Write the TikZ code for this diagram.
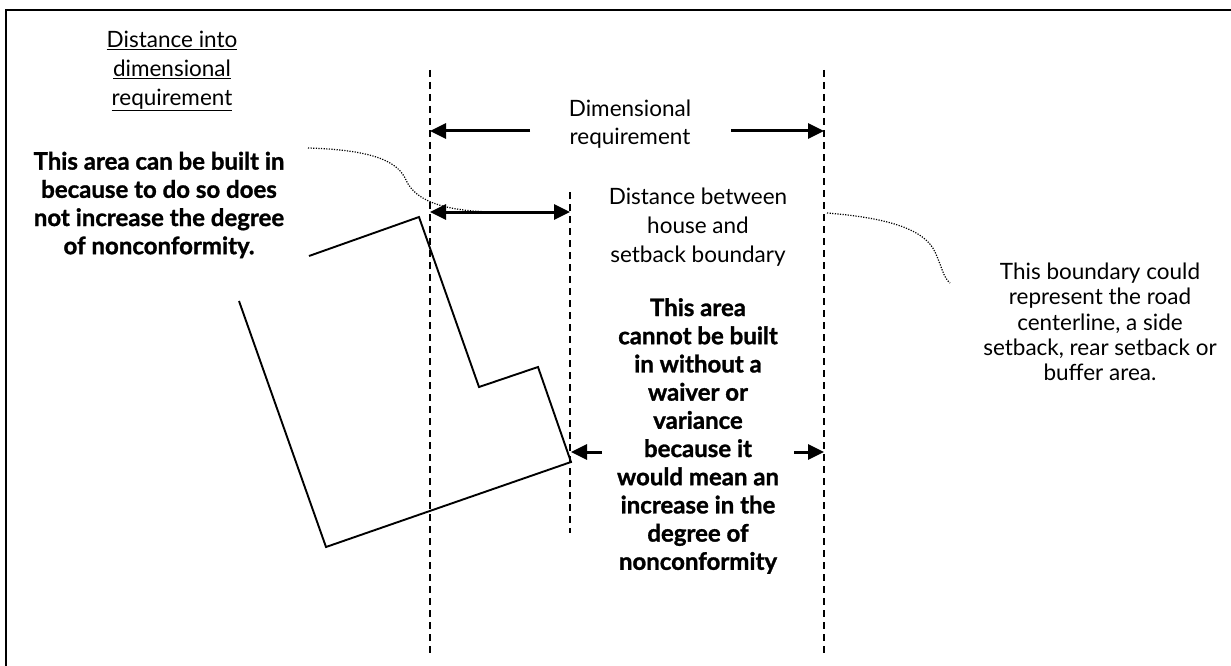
\documentclass[tikz,border=0pt]{standalone}
\usepackage{fontspec}
\setmainfont{Lato}[BoldFeatures={FakeBold=1.2}]
\usetikzlibrary{arrows.meta}
\begin{document}
\begin{tikzpicture}[x=1pt,y=-1pt,
  dimline/.style={line width=1.9pt, dash pattern=on 7pt off 5pt},
  house/.style={line width=1.9pt, line join=miter},
  tip/.style={},
  dimarrow/.style={line width=3pt, -{Triangle[length=16pt,width=15pt]}},
  dblarrow/.style={line width=3pt, {Triangle[length=16pt,width=15pt]}-{Triangle[length=16pt,width=15pt]}},
  leader/.style={line width=1.2pt, dash pattern=on 1.2pt off 1.4pt},
  lbl/.style={font=\fontsize{22.5}{29}\selectfont, align=center, inner sep=0pt},
  boldlbl/.style={align=center, inner sep=0pt, font=\fontsize{24}{28.2}\selectfont\bfseries}]
\useasboundingbox (0,0) rectangle (1231,666);
\draw[line width=2.2pt] (6,10) rectangle (1260,700);

% boundary lines
\coordinate (L1t) at (430,70);  \coordinate (L1b) at (430,655);
\coordinate (L2t) at (570,192); \coordinate (L2b) at (570,533);
\coordinate (L3t) at (824,70);  \coordinate (L3b) at (824,655);
\draw[dimline] (L1t) -- (L1b);
\draw[dimline] (L2t) -- (L2b);
\draw[dimline] (L3t) -- (L3b);

% house
\draw[house] (309,256) -- (419,217) -- (479,387) -- (538,367) -- (571,462) -- (326,547) -- (239,301);

% dimension arrows
\coordinate (drA) at (530,131); \coordinate (drAe) at (430,131);
\coordinate (drB) at (731,131); \coordinate (drBe) at (824,131);
\draw[dimarrow] (drA) -- (drAe);
\draw[dimarrow] (drB) -- (drBe);
\coordinate (dbA) at (430,212); \coordinate (dbB) at (570,212);
\draw[dblarrow] (dbA) -- (dbB);
\coordinate (lwA) at (602,452); \coordinate (lwAe) at (571,452);
\coordinate (lwB) at (794,452); \coordinate (lwBe) at (824,452);
\draw[dimarrow] (lwA) -- (lwAe);
\draw[dimarrow] (lwB) -- (lwBe);

% leaders
\coordinate (ld1s) at (308,148); \coordinate (ld1e) at (500,212);
\draw[leader] (ld1s) .. controls (375,150) and (398,162) .. (406,180)
  .. controls (416,203) and (450,212) .. (ld1e);
\coordinate (ld2s) at (827,213); \coordinate (ld2e) at (950,283);
\draw[leader] (ld2s) .. controls (890,218) and (925,230) .. (935,252)
  .. controls (942,267) and (943,277) .. (ld2e);

% texts
\node[lbl] (t1) at (172,71) {\underline{Distance into}\\\underline{dimensional}\\\underline{requirement}};
\node[boldlbl] (t2) at (159,205) {This area can be built in\\because to do so does\\not increase the degree\\of nonconformity.};
\node[lbl, font=\fontsize{22.5}{28}\selectfont] (t3) at (630,124) {Dimensional\\requirement};
\node[lbl] (t4) at (698,227) {Distance between\\house and\\setback boundary};
\node[boldlbl] (t5) at (698,436) {This area\\cannot be built\\in without a\\waiver or\\variance\\because it\\would mean an\\increase in the\\degree of\\nonconformity};
\node[lbl, font=\fontsize{22.5}{25.3}\selectfont] (t6) at (1100,322) {This boundary could\\represent the road\\centerline, a side\\setback, rear setback or\\buffer area.};
\end{tikzpicture}
\end{document}
